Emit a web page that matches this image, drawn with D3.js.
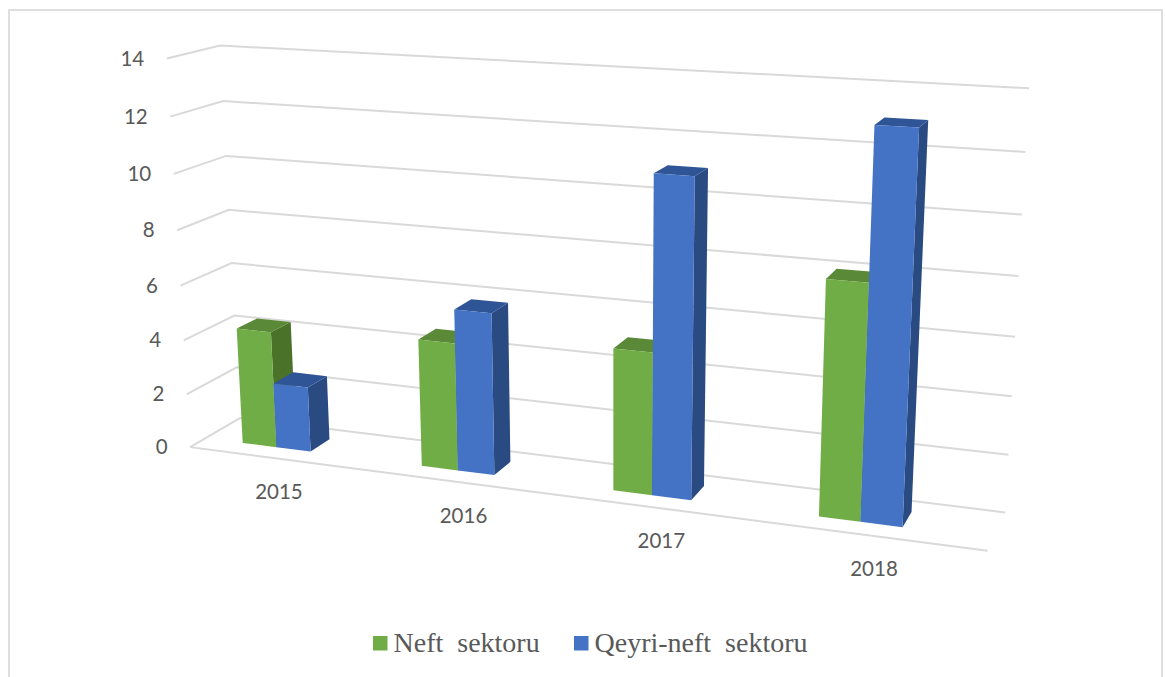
<!DOCTYPE html>
<meta charset="utf-8">
<style>
body { margin: 0; background: #fff; }
svg { display: block; }
.tick-label { font: 20.5px Lato, sans-serif; fill: #595959; }
.legend-label { font: 28px "Liberation Serif", serif; fill: #595959; white-space: pre; }
.grid { fill: none; stroke: #d9d9d9; stroke-width: 2; }
</style>
<body></body>
<script src="https://d3js.org/d3.v7.min.js"></script>
<script>
// chart values
var years = ["2015", "2016", "2017", "2018"];
var seriesNames = ["Neft  sektoru", "Qeyri-neft  sektoru"];
var neft = [4.3, 4.6, 5.0, 8.0];
var qeyriNeft = [2.4, 5.8, 11.0, 13.0];
var valueTicks = [0, 2, 4, 6, 8, 10, 12, 14];

// face colours per series: front, top, side
var colors = [
  { front: "#70ad47", top: "#5a8a37", side: "#4a7229" },
  { front: "#4472c4", top: "#2f5597", side: "#2a4a82" }
];

var width = 1165, height = 677;

// Where the walls of the 3d box land on screen: [category pos, value, depth, px, py]
var anchors = [
  [0, 0, 0, 190, 447], [0, 6, 0, 180, 286], [0, 14, 0, 167, 59],
  [0, 0, 1, 240, 418], [0, 6, 1, 232, 263], [0, 14, 1, 220, 45],
  [4, 0, 1, 1005, 513], [4, 6, 1, 1015, 337], [4, 14, 1, 1029, 88],
  [4, 0, 0, 988, 550]
];

// Solve A x = b with pivoting
function solve(A, b) {
  var n = b.length;
  for (var i = 0; i < n; i++) {
    var p = i;
    for (var r = i + 1; r < n; r++) if (Math.abs(A[r][i]) > Math.abs(A[p][i])) p = r;
    var t = A[i]; A[i] = A[p]; A[p] = t;
    t = b[i]; b[i] = b[p]; b[p] = t;
    for (r = i + 1; r < n; r++) {
      var f = A[r][i] / A[i][i];
      for (var c = i; c < n; c++) A[r][c] -= f * A[i][c];
      b[r] -= f * b[i];
    }
  }
  var x = new Array(n);
  for (i = n - 1; i >= 0; i--) {
    var s = b[i];
    for (c = i + 1; c < n; c++) s -= A[i][c] * x[c];
    x[i] = s / A[i][i];
  }
  return x;
}

// Fit the 3x4 camera matrix to the anchors (least squares)
function fitCamera(points) {
  var n = 11;
  var ata = d3.range(n).map(function() { return d3.range(n).map(function() { return 0; }); });
  var atb = d3.range(n).map(function() { return 0; });
  function addRow(row, val) {
    for (var i = 0; i < n; i++) {
      atb[i] += row[i] * val;
      for (var j = 0; j < n; j++) ata[i][j] += row[i] * row[j];
    }
  }
  points.forEach(function(a) {
    var X = a[0], Y = a[1] / 14, Z = a[2], u = a[3] / 1000, v = a[4] / 1000;
    addRow([X, Y, Z, 1, 0, 0, 0, 0, -u * X, -u * Y, -u * Z], u);
    addRow([0, 0, 0, 0, X, Y, Z, 1, -v * X, -v * Y, -v * Z], v);
  });
  return solve(ata, atb);
}

var cam = fitCamera(anchors);

// category position, value, depth to screen
function project(X, val, Z) {
  var Y = val / 14;
  var w = cam[8] * X + cam[9] * Y + cam[10] * Z + 1;
  return [
    1000 * (cam[0] * X + cam[1] * Y + cam[2] * Z + cam[3]) / w,
    1000 * (cam[4] * X + cam[5] * Y + cam[6] * Z + cam[7]) / w
  ];
}

// bars sit a little left of the middle of each category
var x = d3.scaleBand().domain(years).range([-0.09, 3.9]).paddingInner(0.613).paddingOuter(0.3065);
var xSeries = d3.scaleBand().domain([0, 1]).range([0, x.bandwidth()]);
var xLabel = d3.scaleBand().domain(years).range([0, 4]);
var depthFront = 0.3, depthBack = 0.71;

var svg = d3.select("body").append("svg")
  .attr("width", width)
  .attr("height", height);

// outer frame, bottom edge runs off the page
svg.append("rect")
  .attr("x", 9).attr("y", 10)
  .attr("width", 1153).attr("height", 700)
  .attr("fill", "none")
  .attr("stroke", "#dedede")
  .attr("stroke-width", 2);

var line = d3.line();

// gridlines: side wall then back wall
svg.selectAll(".grid")
  .data(valueTicks)
  .enter().append("path")
    .attr("class", "grid")
    .attr("d", function(v) {
      return line([project(0, v, 0), project(0, v, 1), project(4, v, 1)]);
    });

// floor front edge
svg.append("path")
  .attr("class", "grid")
  .attr("d", line([project(0, 0, 0), project(4, 0, 0)]));

// value labels
svg.selectAll(".value-label")
  .data(valueTicks)
  .enter().append("text")
    .attr("class", "tick-label value-label")
    .attr("x", function(v) { return project(0, v, 0)[0] - 22.5; })
    .attr("y", function(v) { return project(0, v, 0)[1]; })
    .attr("dy", "0.35em")
    .attr("text-anchor", "end")
    .text(function(v) { return v; });

// category labels
function labelPoint(d) {
  return project(xLabel(d) + xLabel.bandwidth() / 2 - 0.04, 0, 0);
}
svg.selectAll(".year-label")
  .data(years)
  .enter().append("text")
    .attr("class", "tick-label year-label")
    .attr("x", function(d) { return labelPoint(d)[0] + 8; })
    .attr("y", function(d) { return labelPoint(d)[1] + 34; })
    .attr("dy", "0.35em")
    .attr("text-anchor", "middle")
    .text(function(d) { return d; });

// bars, green before blue so blue covers the green side
var bars = [];
years.forEach(function(year, i) {
  bars.push({ year: year, s: 0, value: neft[i] });
  bars.push({ year: year, s: 1, value: qeyriNeft[i] });
});

var barGroups = svg.selectAll(".bar")
  .data(bars)
  .enter().append("g")
    .attr("class", "bar");

function barX0(d) { return x(d.year) + xSeries(d.s); }
function barX1(d) { return barX0(d) + xSeries.bandwidth(); }

barGroups.append("path")
  .attr("fill", function(d) { return colors[d.s].side; })
  .attr("d", function(d) {
    return line([
      project(barX1(d), 0, depthFront), project(barX1(d), 0, depthBack),
      project(barX1(d), d.value, depthBack), project(barX1(d), d.value, depthFront)
    ]) + "Z";
  });

barGroups.append("path")
  .attr("fill", function(d) { return colors[d.s].top; })
  .attr("d", function(d) {
    return line([
      project(barX0(d), d.value, depthFront), project(barX1(d), d.value, depthFront),
      project(barX1(d), d.value, depthBack), project(barX0(d), d.value, depthBack)
    ]) + "Z";
  });

barGroups.append("path")
  .attr("fill", function(d) { return colors[d.s].front; })
  .attr("d", function(d) {
    return line([
      project(barX0(d), 0, depthFront), project(barX1(d), 0, depthFront),
      project(barX1(d), d.value, depthFront), project(barX0(d), d.value, depthFront)
    ]) + "Z";
  });

// legend
var legendX = [373, 574];
var legend = svg.selectAll(".legend")
  .data(seriesNames)
  .enter().append("g")
    .attr("class", "legend")
    .attr("transform", function(d, i) { return "translate(" + legendX[i] + ",636)"; });

legend.append("rect")
  .attr("width", 14.5)
  .attr("height", 14.5)
  .attr("fill", function(d, i) { return colors[i].front; });

legend.append("text")
  .attr("class", "legend-label")
  .attr("x", 20.5)
  .attr("y", 16)
  .text(function(d) { return d; });
</script>
